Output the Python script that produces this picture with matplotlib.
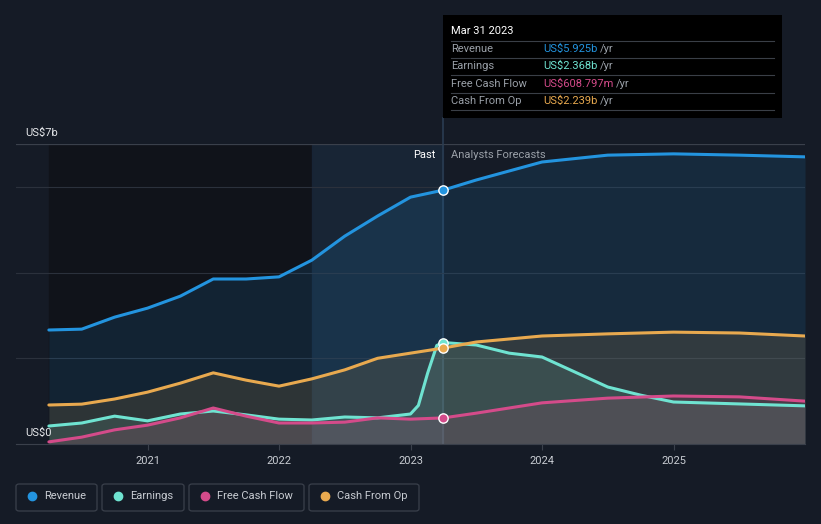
import numpy as np
import matplotlib.pyplot as plt
from matplotlib.patches import FancyBboxPatch, Rectangle

plt.rcParams['font.family'] = ['Roboto', 'DejaVu Sans']

# values, in US$ billions
rev_x = [2020.25, 2020.5, 2020.75, 2021.0, 2021.25, 2021.5, 2021.75, 2022.0, 2022.25,
         2022.5, 2022.75, 2023.0, 2023.25, 2023.5, 2024.0, 2024.5, 2025.0, 2025.5, 2026.0]
revenue = [2.66, 2.68, 2.96, 3.17, 3.45, 3.85, 3.85, 3.90, 4.29,
           4.85, 5.32, 5.76, 5.925, 6.16, 6.58, 6.74, 6.77, 6.74, 6.70]

earn_x = [2020.25, 2020.5, 2020.75, 2021.0, 2021.25, 2021.5, 2021.75, 2022.0, 2022.25,
          2022.5, 2022.75, 2023.0, 2023.06, 2023.13, 2023.2, 2023.25, 2023.5, 2023.75,
          2024.0, 2024.5, 2024.75, 2025.0, 2026.0]
earnings = [0.42, 0.49, 0.65, 0.54, 0.70, 0.77, 0.68, 0.58, 0.56,
            0.63, 0.61, 0.70, 0.90, 1.65, 2.30, 2.368, 2.31, 2.12,
            2.03, 1.33, 1.14, 0.98, 0.89]

fcf_x = [2020.25, 2020.5, 2020.75, 2021.0, 2021.25, 2021.5, 2021.75, 2022.0, 2022.25,
         2022.5, 2022.75, 2023.0, 2023.25, 2023.5, 2024.0, 2024.5, 2025.0, 2025.5, 2026.0]
fcf = [0.05, 0.16, 0.33, 0.44, 0.61, 0.84, 0.65, 0.49, 0.49,
       0.51, 0.61, 0.58, 0.609, 0.72, 0.96, 1.07, 1.12, 1.10, 1.00]

cfo_x = fcf_x
cfo = [0.91, 0.93, 1.05, 1.21, 1.42, 1.66, 1.49, 1.35, 1.52,
       1.73, 2.00, 2.12, 2.239, 2.38, 2.52, 2.57, 2.61, 2.59, 2.52]

year_ticks = [2021, 2022, 2023, 2024, 2025]
now = 2023.25

series = [("Revenue", rev_x, revenue, '#2394df', "US$5.925b"),
          ("Earnings", earn_x, earnings, '#6fe3d1', "US$2.368b"),
          ("Free Cash Flow", fcf_x, fcf, '#d44b8a', "US$608.797m"),
          ("Cash From Op", cfo_x, cfo, '#e8a94f', "US$2.239b")]
now_vals = [5.925, 2.368, 0.609, 2.239]

bg = '#151b26'
fig = plt.figure(figsize=(8.21, 5.24), dpi=100, facecolor=bg)
ax = fig.add_axes([16 / 821, 80 / 524, 789 / 821, 300 / 524])
ax.set_facecolor(bg)
ax.set_xlim(2020.0, 2026.0)
ax.set_ylim(0, 7)

# past shading
ax.axvspan(2020.25, 2022.25, color='#10131a', zorder=0)
ax.axvspan(2022.25, now, color='#1b2c40', alpha=0.6, zorder=0)
ax.axvline(now, color='#2a3c52', lw=1.2, zorder=1)

for y in [2, 4, 6]:
    ax.axhline(y, color='#2b313c', lw=0.8, zorder=1)
ax.axhline(7, color='#3a404b', lw=0.9, zorder=1)

# fills then lines
for name, xs, ys, c, _ in series:
    ax.fill_between(xs, 0, ys, color=c, alpha=0.13, lw=0, zorder=2)
for name, xs, ys, c, _ in series:
    ax.plot(xs, ys, color=c, lw=2.2, zorder=4, solid_capstyle='round')
for (name, xs, ys, c, _), v in zip(series, now_vals):
    ax.scatter([now], [v], s=45, color=c, edgecolor='white', lw=1, zorder=6)

for s in ['top', 'right', 'left']:
    ax.spines[s].set_visible(False)
ax.spines['bottom'].set_color('#3a404b')
ax.set_yticks([])
ax.set_xticks(year_ticks)
ax.set_xticklabels([str(t) for t in year_ticks], color='#c8ccd2', fontsize=8)
ax.tick_params(axis='x', length=4, color='#3a404b', pad=5)

ax.text(2020.07, 7.15, "US$7b", color='#e6e8eb', fontsize=8, va='bottom')
ax.text(2020.07, 0.15, "US$0", color='#e6e8eb', fontsize=8, va='bottom')
ax.text(now - 0.06, 6.75, "Past", color='#ffffff', fontsize=8, ha='right', va='center')
ax.text(now + 0.06, 6.75, "Analysts Forecasts", color='#9aa0a8', fontsize=8, ha='left', va='center')

# tooltip
W, H = 821, 524
fig.add_artist(plt.Line2D([443 / W, 443 / W], [1 - 118 / H, 1 - 144 / H], transform=fig.transFigure,
                          color='#2a3c52', lw=1.2, zorder=3))
fig.add_artist(Rectangle((443 / W, 1 - 118 / H), 339 / W, 103 / H, transform=fig.transFigure,
                         facecolor='#000000', edgecolor='none', zorder=10))
fig.text(451 / W, 1 - 31 / H, "Mar 31 2023", color='white', fontsize=8, va='center', zorder=11)
rows_y = [49, 66, 84, 101]
for ln in [41, 58, 75, 93, 110]:
    fig.add_artist(plt.Line2D([451 / W, 774 / W], [1 - ln / H, 1 - ln / H], transform=fig.transFigure,
                              color='#3a3f47', lw=0.8, zorder=11))
for (name, xs, ys, c, val), ry in zip(series, rows_y):
    fig.text(451 / W, 1 - ry / H, name, color='#9aa0a8', fontsize=8, va='center', zorder=11)
    t = fig.text(543 / W, 1 - ry / H, val, color=c, fontsize=8, va='center', zorder=11)
    fig.canvas.draw()
    bb = t.get_window_extent()
    fig.text((bb.x1 + 3) / W, 1 - ry / H, "/yr", color='#9aa0a8', fontsize=8, va='center', zorder=11)

# legend boxes
boxes = [(16, 97), (102, 184), (189, 304), (309, 419)]
for (name, xs, ys, c, _), (x0, x1) in zip(series, boxes):
    fig.add_artist(FancyBboxPatch((x0 / W, 1 - 511 / H), (x1 - x0) / W, 27 / H,
                                  boxstyle='round,pad=0,rounding_size=0.004', transform=fig.transFigure,
                                  facecolor='none', edgecolor='#3a404b', lw=0.9))
    fig.add_artist(plt.Line2D([(x0 + 16) / W], [1 - 496 / H], marker='o', markersize=6,
                              color=c, transform=fig.transFigure))
    fig.text((x0 + 28) / W, 1 - 496 / H, name, color='#c8ccd2', fontsize=8, va='center')

fig.savefig('out.png', dpi=100, facecolor=bg)
